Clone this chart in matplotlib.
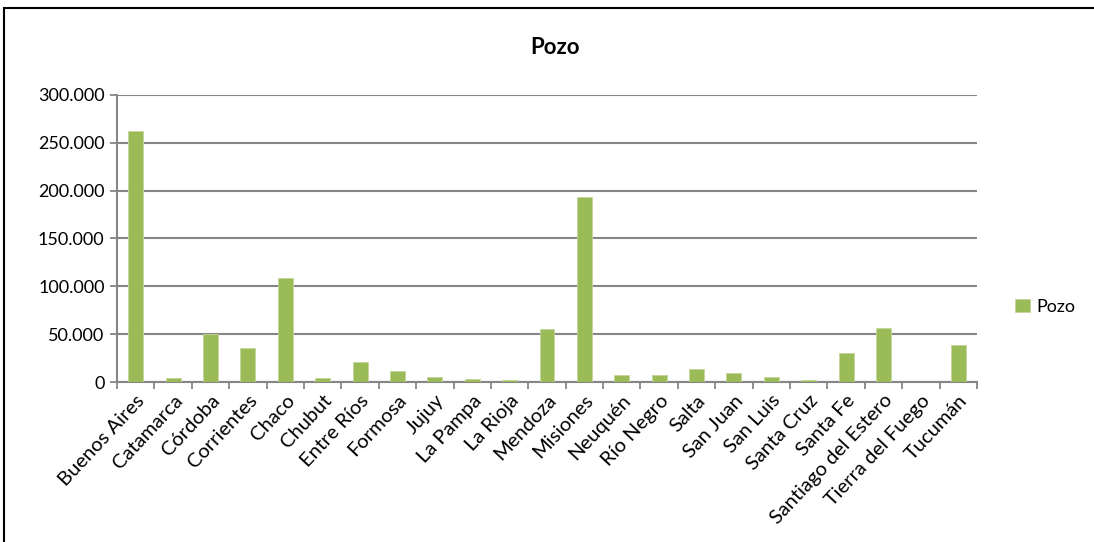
import numpy as np
import matplotlib
matplotlib.use("Agg")
import matplotlib.pyplot as plt
from matplotlib.patches import Rectangle
from matplotlib.ticker import FuncFormatter, FixedLocator

provincias = ["Buenos Aires", "Catamarca", "Córdoba", "Corrientes", "Chaco", "Chubut",
              "Entre Ríos", "Formosa", "Jujuy", "La Pampa", "La Rioja", "Mendoza",
              "Misiones", "Neuquén", "Río Negro", "Salta", "San Juan", "San Luis",
              "Santa Cruz", "Santa Fe", "Santiago del Estero", "Tierra del Fuego", "Tucumán"]
pozo = [262500, 4800, 50500, 36000, 109000, 3800,
        21500, 11500, 5500, 3000, 2000, 55000,
        193000, 7200, 7400, 14000, 9400, 5000,
        1800, 30200, 56000, 200, 39200]

plt.rcParams['font.family'] = ['Lato', 'DejaVu Sans']

fig = plt.figure(figsize=(10.94, 5.42), dpi=100)
ax = fig.add_axes([0.107, 0.295, 0.786, 0.53])

green = "#9bbb59"
x = np.arange(len(provincias))
ax.bar(x, pozo, width=0.4, color=green, edgecolor="#c3d69b", linewidth=0.6, label="Pozo", zorder=3)

ax.set_xlim(-0.5, len(provincias) - 0.5)
ax.set_ylim(0, 300000)
ax.set_yticks(np.arange(0, 300001, 50000))
ax.yaxis.set_major_formatter(FuncFormatter(lambda v, p: f"{int(v):,}".replace(",", ".")))
ax.yaxis.grid(True, color="#868686", linewidth=1.5, zorder=0)

ax.set_xticks(x)
ax.set_xticklabels(provincias, rotation=47, ha="right", rotation_mode="anchor", fontsize=14.5)
ax.tick_params(axis="x", length=0, pad=7)
ax.xaxis.set_minor_locator(FixedLocator(np.arange(-0.5, len(provincias), 1)))
ax.tick_params(axis="x", which="minor", length=5, color="#868686", width=1.3)
ax.tick_params(axis="y", length=5, color="#868686", width=1.3, labelsize=13, pad=4)

for s in ["top", "right"]:
    ax.spines[s].set_visible(False)
for s in ["left", "bottom"]:
    ax.spines[s].set_color("#868686")
    ax.spines[s].set_linewidth(1.5)

fig.text(0.507, 0.913, "Pozo", ha="center", va="center", fontsize=16, fontweight="bold")
fig.legend(loc="center left", bbox_to_anchor=(0.913, 0.434), frameon=False, fontsize=13,
           handlelength=0.8, handleheight=0.8, handletextpad=0.4)

fig.patches.append(Rectangle((0.004, -0.1), 1.2, 1.085, transform=fig.transFigure,
                             fill=False, edgecolor="black", linewidth=1.5))

fig.savefig("out.png", dpi=100)
